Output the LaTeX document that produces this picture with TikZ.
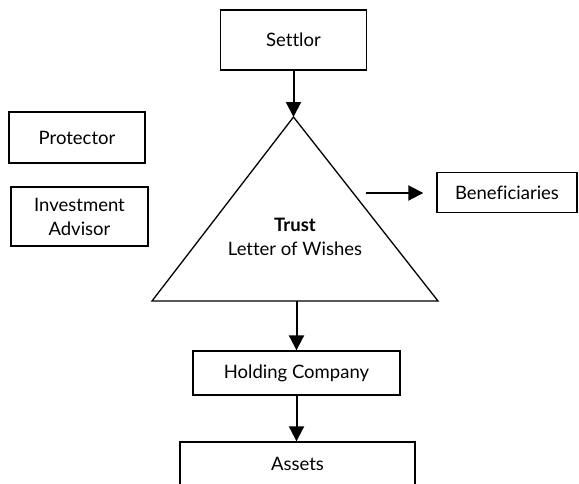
\documentclass[tikz,border=0pt]{standalone}
\usepackage{fontspec}
\setmainfont[Ligatures=NoCommon]{Lato}
\usetikzlibrary{arrows.meta}

\tikzset{
  party/.style={draw, line width=1.4pt, align=center, inner sep=0pt,
    font=\fontsize{18.5}{24}\selectfont},
  flow/.style={line width=2pt, -{Triangle[length=15pt,width=15pt]}}
}

\begin{document}
\begin{tikzpicture}[x=1pt,y=-1pt]
  \clip (0,0) rectangle (579,483);
  \node[party, minimum width=146pt, minimum height=60pt] (settlor) at (293.5,40) {Settlor};
  \node[party, minimum width=136pt, minimum height=51pt] (protector) at (77,137.5) {Protector};
  \node[party, minimum width=137pt, minimum height=59pt] (advisor) at (79.5,216.5) {Investment\\Advisor};
  \node[party, minimum width=140pt, minimum height=40pt] (benef) at (507,192.5) {Beneficiaries};
  \node[party, minimum width=207pt, minimum height=44pt] (holding) at (296.5,373) {Holding Company};
  \node[party, minimum width=235pt, minimum height=44pt] (assets) at (297.5,464) {Assets};

  \coordinate (apex) at (293.5,117);
  \coordinate (left) at (152,301);
  \coordinate (right) at (438,301);
  \draw[line width=1.3pt, line join=miter] (apex) -- (left) -- (right) -- cycle;
  \node[align=center, font=\fontsize{18.5}{24}\selectfont] (trust) at (295,237) {\textbf{Trust}\\Letter of Wishes};

  \coordinate (wish) at (366,193);
  \coordinate (base) at (296.5,301);
  \draw[flow] (settlor.south) -- (apex);
  \draw[flow, shorten >=13pt] (wish) -- (wish -| benef.west);
  \draw[flow] (base) -- (holding.north);
  \draw[flow] (holding.south) -- (holding.south |- assets.north);
\end{tikzpicture}
\end{document}
